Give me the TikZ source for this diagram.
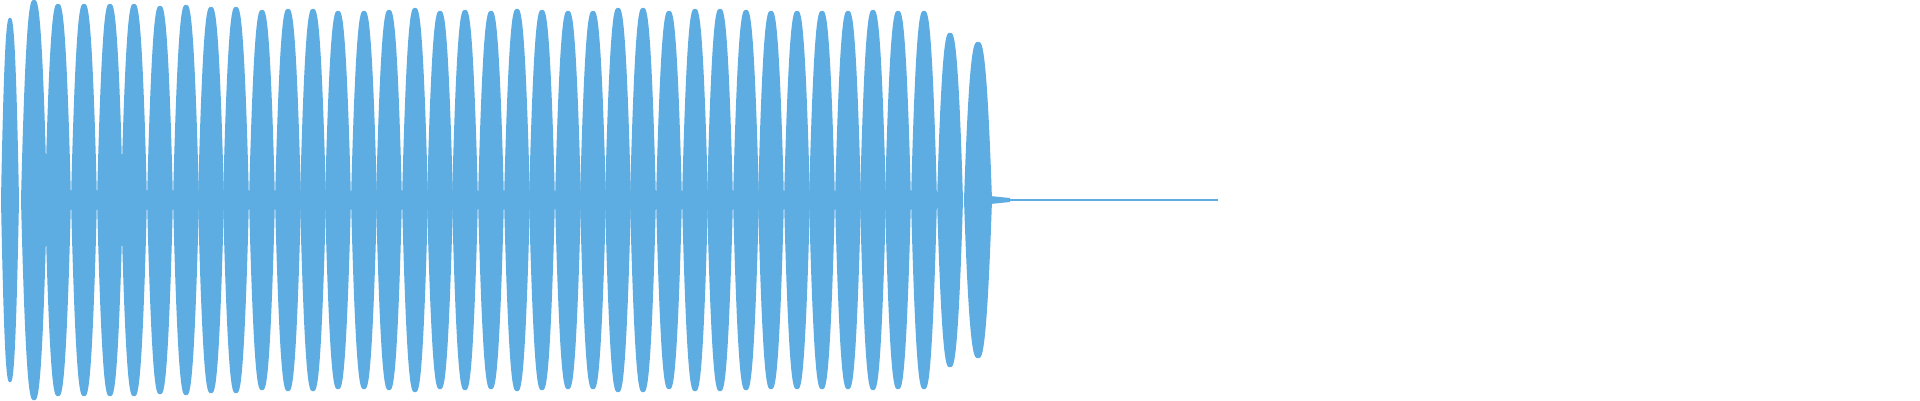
\documentclass[tikz,border=0pt]{standalone}
\definecolor{wave}{RGB}{93,172,226}
\begin{document}
\begin{tikzpicture}[x=1pt,y=-1pt]
\useasboundingbox (0,0) rectangle (1920,400);
\foreach \x/\h/\w in {10/182/9, 34/200/13, 58/196/13, 84/196/13, 110/196/13, 134/196/13, 160/194/13, 186/195/13, 211/193/13, 236/193/13, 262/190/13, 288/191/13, 313/191/13, 338/189/13, 364/189/13, 389/190/13, 415/192/13, 440/189/13, 465/190/13, 491/189/13, 517/191/13, 542/190/13, 568/189/13, 593/189/13, 618/192/13, 643/192/13, 669/189/13, 695/191/13, 720/191/13, 746/190/13, 771/189/13, 797/189/13, 822/189/13, 848/189/13, 873/190/13, 898/189/13, 924/189/13, 950/167/13, 978/158/14} {
  \fill[wave] (\x-\w,200) .. controls (\x-0.6*\w,200-1.05*\h) and (\x-0.25*\w,200-\h) .. (\x,200-\h)
    .. controls (\x+0.25*\w,200-\h) and (\x+0.6*\w,200-1.05*\h) .. (\x+\w,200)
    .. controls (\x+0.6*\w,200+1.05*\h) and (\x+0.25*\w,200+\h) .. (\x,200+\h)
    .. controls (\x-0.25*\w,200+\h) and (\x-0.6*\w,200+1.05*\h) .. (\x-\w,200) -- cycle;
}
\fill[wave] (990,196) -- (1010,198) -- (1010,202) -- (990,204) -- cycle;
\draw[wave,line width=1.2pt] (1010,200) -- (1218,200);
\end{tikzpicture}
\end{document}
